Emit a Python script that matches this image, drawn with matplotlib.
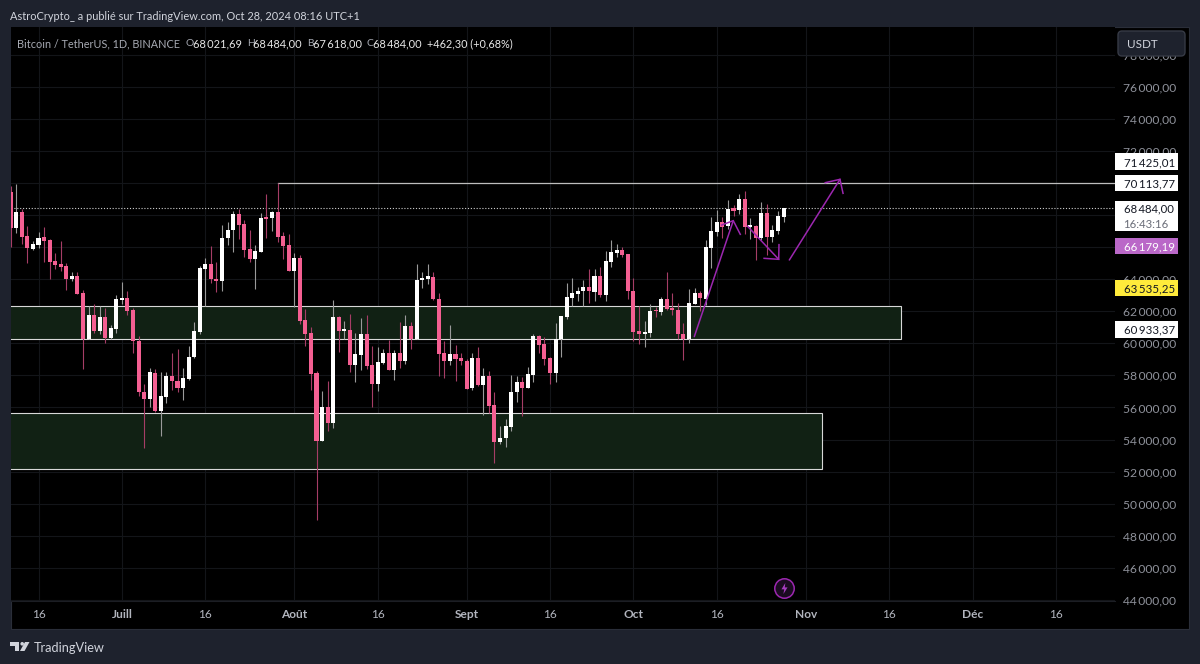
import matplotlib
matplotlib.use("Agg")
import matplotlib.pyplot as plt
from matplotlib.patches import Rectangle, FancyBboxPatch, Polygon, Circle
from matplotlib.path import Path

plt.rcParams['font.family'] = ['Lato', 'DejaVu Sans']

first_day = -5  # day index of first candle, 0 = 16 June 2024
opens = [69454,67210,68187,66691,65901,66109,66607,66441,65111,64924,
64820,64031,64197,63137,60249,61745,60747,61641,60311,60914,
62701,62825,62077,60145,56986,56550,58171,55760,56675,57984,
57672,57236,57776,59127,60706,64633,64945,64010,63885,66566,
67065,68083,67418,65859,65278,65693,67875,67792,68187,66691,
66109,64509,65319,61433,60643,58129,53931,56010,55053,61641,
60747,60851,58628,59272,60560,58628,57444,58773,59418,58337,
59376,58919,61101,60249,63927,64010,64155,62784,59376,58919,
59314,59085,58919,57194,59064,57402,57942,56134,53869,54077,
54763,56945,57589,57236,58046,60457,59958,59085,58129,60249,
61641,62825,63075,63241,63511,63220,64218,63033,65070,65651,
65818,65568,63262,60747,60581,60664,62098,61953,62784,62181,
62098,60602,60249,62452,63116,62784,65963,66961,67543,67335,
68415,68291,68976,67272,67335,66566,68124,66607,67023,67875]
highs = [69808,69932,68353,67314,66400,66940,67252,66504,65651,66400,64987,64467,64446,63324,62327,62431,62327,62181,61142,62992,
63823,63241,62223,60457,57464,58441,58379,58192,58212,59418,59625,58482,59812,61329,64800,65298,66067,65070,67355,67543,
68270,68353,67667,67044,66109,68124,69309,68228,70015,66940,66794,65610,65506,62119,61039,58254,57007,57672,62701,61703,
61392,61807,60664,61558,61766,59833,59771,59667,60207,59563,61350,61766,61329,64945,64446,64924,64426,63137,60145,61121,
59916,59418,59002,59376,59771,58462,58275,56945,54825,55262,58025,57984,57921,58524,60581,60540,60374,59168,61246,61724,
63761,64072,63491,63927,64654,64613,64737,65755,66441,66171,65984,65568,64051,62327,61392,62431,62285,62909,64426,63116,
62493,61246,63366,63428,63241,66441,67896,68311,67896,68914,68602,69330,69475,67792,67355,68789,68685,67376,68249,68415]
lows = [66026,66857,66192,65028,65818,65963,65090,64031,64654,64529,63324,63906,63075,58399,60249,60664,60560,60041,60269,60664,
62452,61745,59376,56737,53495,56030,55719,54244,56259,57090,56986,56488,57734,59106,60560,62327,63781,63200,63241,66150,
65714,66504,65361,65070,63387,65672,66587,67002,66337,65257,64509,62244,61205,59833,57090,48986,53931,54534,54742,59480,
60249,58233,57589,58337,58399,56051,57049,58711,58337,57734,58482,58711,59646,60249,63470,63698,62701,57984,57838,58649,
57651,58669,57153,57090,57361,55532,55636,52539,53724,53558,54555,56342,55490,57215,57589,59376,58649,57464,57610,59127,
61496,62348,62659,62348,62493,62659,62888,62659,64779,65361,65361,62784,60145,59958,59792,60415,61641,61745,62077,61786,
60249,58940,60041,62452,61994,62389,64717,66711,66566,67148,67937,68041,66815,66504,65215,66462,65506,66337,66836,67543]
closes = [67210,68187,66649,65922,66171,66587,66379,65090,64862,64779,
64031,64218,63096,60249,61745,60747,61641,60332,60955,62742,
62825,62036,60124,56966,56550,58192,55760,56695,57984,57651,
57236,57838,59168,60747,64675,64945,63989,63885,66587,67085,
68083,67397,65818,65257,65755,67834,67750,68187,66649,66067,
64509,65319,61392,60602,58088,53931,56010,55053,61641,60747,
60872,58628,59314,60560,58586,57444,58836,59418,58337,59376,
58919,61101,60249,63968,64093,64176,62742,59334,58919,59314,
59023,58877,57173,59064,57381,57942,56093,53869,54118,54825,
56986,57589,57236,58088,60457,59896,59023,58129,60249,61703,
62888,63116,63262,63511,63241,64218,63033,65111,65693,65818,
65506,63241,60706,60581,60706,62036,61994,62784,62140,62057,
60581,60249,62493,63137,62805,66005,67002,67543,67252,68394,
68270,68976,67252,67355,66566,68124,66607,67044,67937,68415]

y_ticks = [78000,76000,74000,72000,70000,68000,66000,64000,62000,60000,58000,56000,54000,52000,50000,48000,46000,44000]
x_tick_days = [0,15,30,46,61,77,92,107,122,138,153,168,183]
x_tick_labels = ['16','Juill','16','Août','16','Sept','16','Oct','16','Nov','16','Déc','16']
month_labels = {'Juill','Août','Sept','Oct','Nov','Déc'}

zones = [(-5.5,155.1,60250,62326),(-5.5,141.0,52163,55636)]
resistance_day, resistance_price = 43, 70015
last_price_line = 68417
arrow_shafts = [([117.95,124.96],[60415,67646]),([127.48,133.13],[67314,65236]),([135.04,144.15],[65194,70223])]
arrow_heads = [([122.88,124.96,126.22],[67376,67646,66794]),([130.5,133.13,133.18],[65298,65236,66150]),([141.5,144.15,144.7],[70015,70223,69350])]
flash_day, flash_price = 134.1, 44743

W, H = 1200, 664
def fx(x): return x/W
def fy(y): return 1-y/H

BG = '#1e222d'
fig = plt.figure(figsize=(12,6.64), dpi=100, facecolor=BG)
fig.add_artist(Rectangle((fx(11),fy(629)),(1189-11)/W,(629-27)/H,transform=fig.transFigure,fc='black',ec='#2a2e39',lw=0.8,zorder=0))

ax = fig.add_axes([fx(11),fy(601),(1115-11)/W,(601-27)/H],facecolor='black',zorder=1)
ax.set_xlim((11-38.5)/5.56,(1115-38.5)/5.56)
ax.set_ylim(60000+(343.3-601)*62.35,60000+(343.3-27)*62.35)
for s in ['left','right','top']:
    ax.spines[s].set_visible(False)
ax.spines['bottom'].set_color('#1c1e24')
ax.yaxis.tick_right()
ax.set_yticks(y_ticks)
ax.set_yticklabels([f"{v//1000}\u2009{v%1000:03d},00" for v in y_ticks],color='#8f929b',fontsize=8.7,va='center_baseline')
ax.set_xticks(x_tick_days)
ax.set_xticklabels(x_tick_labels,color='#b2b5be',fontsize=8.6)
for t,l in zip(ax.get_xticklabels(),x_tick_labels):
    if l in month_labels:
        t.set_fontweight('bold')
ax.tick_params(axis='y',length=0,pad=5.8)
ax.tick_params(axis='x',length=0,pad=6)
ax.grid(True,color='#131519',lw=0.8,zorder=0)
ax.set_axisbelow(True)

for x0,x1,p0,p1 in zones:
    ax.add_patch(Rectangle((x0,p0),x1-x0,p1-p0,fc='#112114',ec='#d8d8d8',lw=0.8,zorder=1))

ax.plot([resistance_day,200],[resistance_price]*2,color='#bdbdbd',lw=0.9,zorder=2)
ax.plot([resistance_day,resistance_day],[resistance_price,69500],color='#bdbdbd',lw=0.5,zorder=2)
ax.axhline(last_price_line,color='#cfcfcf',lw=0.8,ls=(0,(1,1.6)),zorder=2)

PINK,WHITE = '#f45f92','#ffffff'
WPINK,WWHITE = '#a63d66','#9a9a9a'
for i,(o,h,l,c) in enumerate(zip(opens,highs,lows,closes)):
    d = first_day+i
    up = c>=o
    ax.plot([d,d],[l,h],color=WWHITE if up else WPINK,lw=0.8,zorder=3,solid_capstyle='butt')
    ax.bar(d,max(abs(c-o),40),bottom=min(o,c),width=0.72,color=WHITE if up else PINK,lw=0,zorder=4)

PURPLE = '#9c27b0'
for (xs,ys),(hx,hy) in zip(arrow_shafts,arrow_heads):
    ax.plot(xs,ys,color=PURPLE,lw=1.1,zorder=5,solid_capstyle='round')
    ax.plot(hx,hy,color=PURPLE,lw=1.1,zorder=5,solid_joinstyle='miter')

bolt = Path([(0.15,1),(-0.55,-0.15),(-0.05,-0.15),(-0.2,-1),(0.55,0.2),(0.05,0.2),(0.15,1),(0.15,1)],
            [Path.MOVETO]+[Path.LINETO]*6+[Path.CLOSEPOLY])
ax.plot([flash_day],[flash_price],marker='o',ms=14,mfc='#1a0b20',mec=PURPLE,mew=1.1,zorder=6,ls='')
ax.plot([flash_day],[flash_price],marker=bolt,ms=8,mfc='#a63cc0',mec='none',zorder=7,ls='')

overlay = fig.add_axes([0,0,1,1],facecolor='none',zorder=5)
overlay.set_xlim(0,W); overlay.set_ylim(H,0); overlay.axis('off')

labels = [('71\u2009425,01',153.3,170,'white','#131722'),('70\u2009113,77',175,191,'white','#131722'),
          ('66\u2009179,19',237.7,254,'#ba68c8','white'),('63\u2009535,25',279.7,296,'#ffeb3b','#131722'),
          ('60\u2009933,37',321,337.7,'white','#131722')]
for txt,y0,y1,bg,fg in labels:
    overlay.add_patch(Rectangle((1115,y0),63,y1-y0,fc=bg,ec='none'))
    overlay.text(1123.5,(y0+y1)/2,txt,color=fg,fontsize=8.3,va='center_baseline',ha='left')
overlay.add_patch(Rectangle((1115,200.5),63,30.5,fc='white',ec='none'))
overlay.text(1123.5,208,'68\u2009484,00',color='#131722',fontsize=8.2,va='center_baseline')
overlay.text(1123.5,223,'16:43:16',color='#6a6d78',fontsize=8.2,va='center_baseline')

overlay.add_patch(FancyBboxPatch((1120,33),63,21,boxstyle='round,pad=2,rounding_size=4',fc=BG,ec='#363a45',lw=1))
overlay.text(1127,43.5,'USDT',color='#d1d4dc',fontsize=8.4,va='center_baseline')

overlay.text(10,15.5,'AstroCrypto_ a publié sur TradingView.com, Oct 28, 2024 08:16 UTC+1',color='#d1d4dc',fontsize=7.9,va='center_baseline')
overlay.text(17,42.5,'Bitcoin / TetherUS, 1D, BINANCE',color='#a6a9b2',fontsize=7.8,va='center_baseline')
for lab,xl,val,xv in [('O',186,'68\u2009021,69',193),('H',246.7,'68\u2009484,00',253),('B',306.7,'67\u2009618,00',313),('C',366.7,'68\u2009484,00',373)]:
    overlay.text(xl,42.5,lab,color='#a6a9b2',fontsize=7.4,va='center_baseline')
    overlay.text(xv,42.5,val,color='#e8e8e8',fontsize=7.9,va='center_baseline')
overlay.text(426.7,42.5,'+462,30 (+0,68%)',color='#e8e8e8',fontsize=7.8,va='center_baseline')

LOGO = '#d1d4dc'
overlay.add_patch(Polygon([(10,642),(19,642),(19,651),(15,651),(15,645.5),(10,645.5)],fc=LOGO,ec='none'))
overlay.add_patch(Circle((22.2,643.8),1.8,fc=LOGO,ec='none'))
overlay.add_patch(Polygon([(25,642),(29.5,642),(24.5,651),(20,651)],fc=LOGO,ec='none'))
overlay.text(34,647,'TradingView',color=LOGO,fontsize=9.2,va='center_baseline')

fig.savefig('out.png',dpi=100,facecolor=BG)
